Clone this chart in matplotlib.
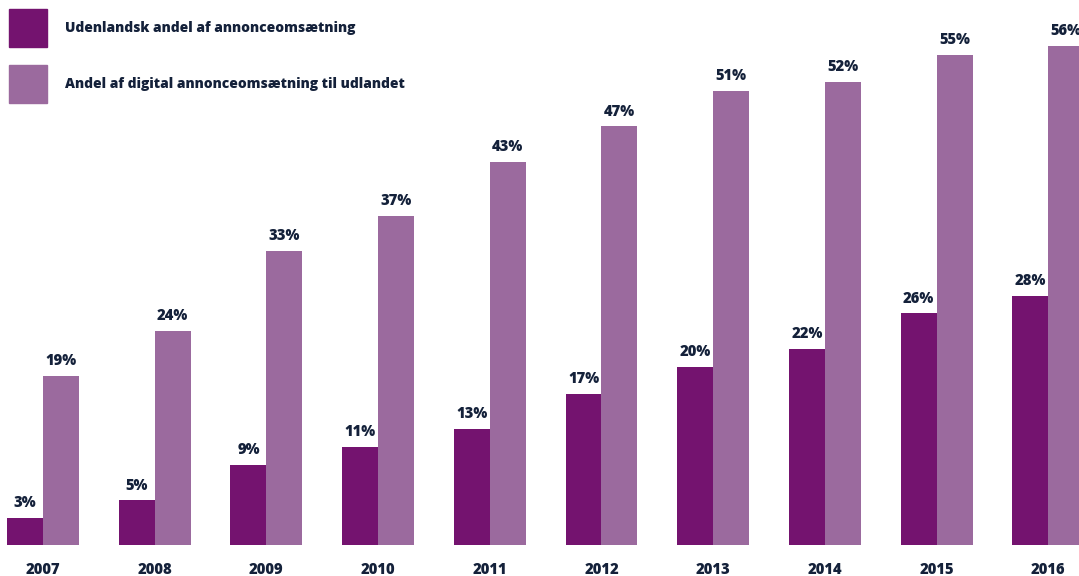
import matplotlib.pyplot as plt
import numpy as np
from matplotlib.patches import Rectangle

years = ["2007", "2008", "2009", "2010", "2011", "2012", "2013", "2014", "2015", "2016"]
udenlandsk = [3, 5, 9, 11, 13, 17, 20, 22, 26, 28]
digital = [19, 24, 33, 37, 43, 47, 51, 52, 55, 56]
labels = ["Udenlandsk andel af annonceomsætning",
          "Andel af digital annonceomsætning til udlandet"]

dark = "#74136f"
light = "#9b6a9e"
navy = "#14213a"

plt.rcParams["font.family"] = ["Open Sans", "DejaVu Sans"]
wt = "extra bold"
fs = 9.9

fig = plt.figure(figsize=(10.79, 5.76), dpi=100)
ax = fig.add_axes([0, 0.0538, 1, 0.9462])

x = np.arange(len(years))
w = 0.322
b1 = ax.bar(x - w / 2, udenlandsk, w, color=dark)
b2 = ax.bar(x + w / 2, digital, w, color=light)

for bars, vals in [(b1, udenlandsk), (b2, digital)]:
    for r, v in zip(bars, vals):
        ax.annotate(f"{v}%", (r.get_x() + r.get_width() / 2, v),
                    xytext=(0, 5), textcoords="offset points",
                    ha="center", va="bottom", fontsize=10.6,
                    fontweight=wt, color=navy)

for xi, yr in zip(x, years):
    ax.annotate(yr, (xi, 0), xytext=(0, -18), textcoords="offset points",
                ha="center", va="center", fontsize=10.6,
                fontweight=wt, color=navy, annotation_clip=False)

ax.set_xlim(-0.385, 9.275)
ax.set_ylim(0, 61.2)
ax.axis("off")

# legend drawn by hand in figure pixels
for i, (lab, col) in enumerate(zip(labels, [dark, light])):
    y0 = 576 - 47 - i * 56
    fig.patches.append(Rectangle((9 / 1079, y0 / 576), 38 / 1079, 38 / 576,
                                 transform=fig.transFigure, color=col))
    fig.text(65 / 1079, (y0 + 19) / 576, lab, ha="left", va="center",
             fontsize=fs, fontweight=wt, color=navy)

fig.savefig("out.png", dpi=100)
